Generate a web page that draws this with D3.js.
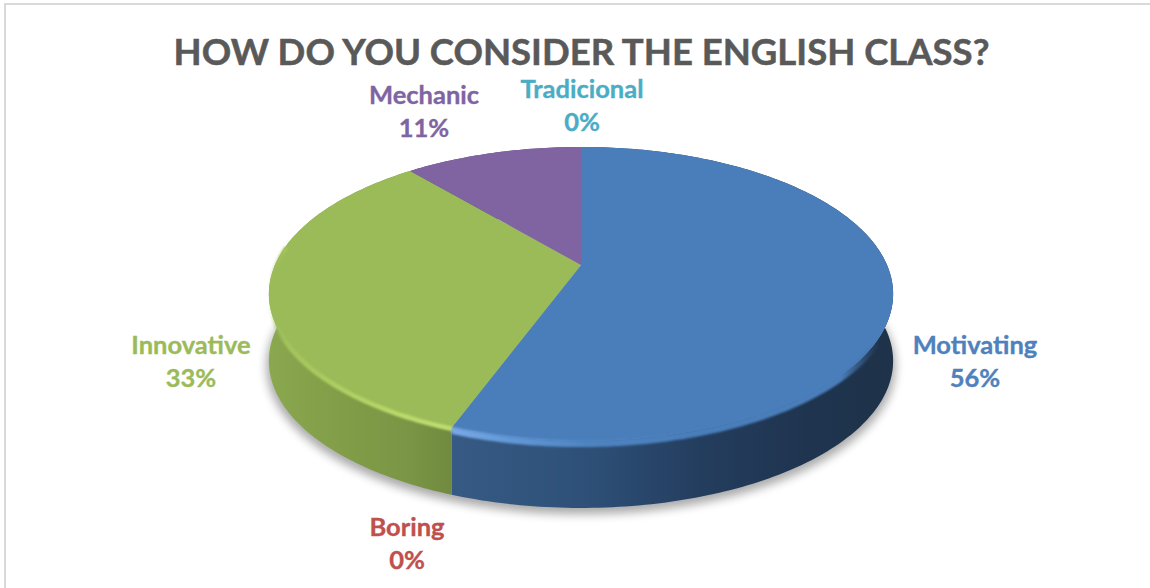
<!DOCTYPE html>
<html><head><meta charset="utf-8">
<script src="https://cdn.jsdelivr.net/npm/d3@7"></script>
<style>html,body{margin:0;padding:0;background:#fff}svg{display:block}text{font-family:Lato,"Open Sans",sans-serif;font-weight:700}</style>
</head><body><svg id="c" width="1150" height="588"></svg>
<script>
const titleText = "HOW DO YOU CONSIDER THE ENGLISH CLASS?";
const categories = ["Motivating","Boring","Innovative","Mechanic","Tradicional"];
const shares = [55.6,0,33.3,11.1,0];
const pctLabels = ["56%","0%","33%","11%","0%"];
const colors = ["#4f81bd","#c0504d","#9bbb59","#8064a2","#4bacc6"];

const W=1150,H=588;
const svg=d3.select("#c");
const defs=svg.append("defs");
const blur=(id,s)=>defs.append("filter").attr("id",id).attr("x","-10%").attr("y","-20%").attr("width","120%").attr("height","140%")
  .append("feGaussianBlur").attr("stdDeviation",s);
blur("b1",1.1);blur("b6",5);

function grad(id,x1,x2,stops){
  const g=defs.append("linearGradient").attr("id",id).attr("gradientUnits","userSpaceOnUse")
    .attr("x1",x1).attr("x2",x2).attr("y1",0).attr("y2",0);
  stops.forEach(s=>g.append("stop").attr("offset",s[0]).attr("stop-color",s[1]).attr("stop-opacity",s[2]===undefined?1:s[2]));
}
grad("wall0",455,893,[[0,"#365a84"],[.3,"#2e5078"],[.55,"#243e5f"],[.8,"#1f344f"],[1,"#1e3249"]]);
grad("wall2",268,458,[[0,"#8aa84e"],[.4,"#819d48"],[.75,"#7a9545"],[1,"#6f883e"]]);
grad("wall3",268,893,[[0,"#5f4a7a"],[1,"#5f4a7a"]]);
grad("rim0",455,893,[[0,"#78a8e6"],[.12,"#6299d8"],[.3,"#4f84c2"],[.55,"#4a7ebb"],[.88,"#4a7ebb"],[.97,"#3f6c9f",0]]);
grad("rim2",268,458,[[0,"#9bbb59",0],[.1,"#a3c45c"],[.35,"#aecf62"],[.7,"#bcdc6c"],[1,"#c3e273"]]);

// Perspective projection of the pie's unit circle onto the page
const cx=581,cy=265,k=0.197,S=141.3,R=306,depth=67;
function proj(a,dy=0,scale=1){
  const u=Math.sin(a),v=-Math.cos(a),w=1-k*v;
  return [cx+scale*R*u/w, cy+dy+scale*S*v/w];
}
const pie=d3.pie().value(d=>d).sort(null);
const arcs=pie(shares);
const line=d3.line();
const step=Math.PI/180;
const samples=(a0,a1)=>{const n=Math.max(1,Math.ceil((a1-a0)/step));return d3.range(n+1).map(i=>a0+(a1-a0)*i/n);};

// frame
svg.append("path").attr("d","M5,588V4H1150").attr("fill","none").attr("stroke","#d9d9d9").attr("stroke-width",2);

// floor shadow
svg.append("path").attr("fill","#000").attr("opacity",.33).attr("filter","url(#b6)")
  .attr("d",line(samples(0,2*Math.PI).map(a=>proj(a,depth+5,1.008)))+"Z");

// side walls
svg.append("g").selectAll("path").data(arcs).join("path")
  .attr("fill",(d,i)=>`url(#wall${i===0?0:i===2?2:3})`)
  .attr("d",d=>{
    const as=samples(d.startAngle,d.endAngle);
    return line(as.map(a=>proj(a)).concat(as.slice().reverse().map(a=>proj(a,depth,1))))+"Z";
  });

// top faces
svg.append("g").selectAll("path").data(arcs).join("path")
  .attr("fill",(d,i)=>i===0?"#4a7ebb":colors[i])
  .attr("d",d=>line([[cx,cy]].concat(samples(d.startAngle,d.endAngle).map(a=>proj(a))))+"Z");

// rim bevel highlight along the front edge
const rim=svg.append("g").attr("fill","none").attr("filter","url(#b1)").attr("stroke-linecap","butt");
rim.selectAll("path").data(arcs.filter((d,i)=>i===0||i===2)).join("path")
  .attr("stroke",d=>`url(#rim${d.index})`).attr("stroke-width",d=>d.index===0?7:4.5)
  .attr("d",d=>{
    const lo=d.index===0?Math.max(d.startAngle,1.75):d.startAngle;
    const hi=d.index===2?Math.min(d.endAngle,4.85):d.endAngle;
    return line(samples(lo,hi).map(a=>proj(a,d.index===0?3:1.5,.998)));
  });

// data labels
const labelPos=[[975,346],[407,528],[191,346],[424,96],[582,90]];
const lg=svg.append("g").attr("text-anchor","middle").attr("font-size",25.5).attr("stroke-width",.35);
categories.forEach((c,i)=>{
  const t=lg.append("text").attr("fill",colors[i]).attr("stroke",colors[i]);
  t.append("tspan").attr("x",labelPos[i][0]).attr("y",labelPos[i][1]+8).text(c);
  t.append("tspan").attr("x",labelPos[i][0]).attr("y",labelPos[i][1]+41).text(pctLabels[i]);
});

svg.append("text").attr("x",581.5).attr("y",65).attr("text-anchor","middle")
  .attr("font-size",36.5).attr("fill","#595959").attr("stroke","#595959").attr("stroke-width",.5).text(titleText);
</script></body></html>
